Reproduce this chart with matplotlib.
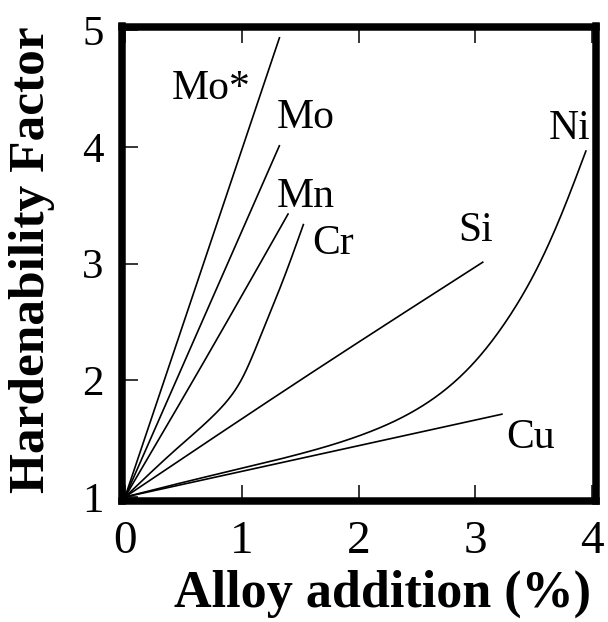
import matplotlib
matplotlib.use("Agg")
import matplotlib.pyplot as plt
import numpy as np

# ---- data ----
mo_star_x = [0.0, 1.325]
mo_star_y = [1.0, 4.94]

mo_x = [0.0, 1.325]
mo_y = [1.0, 4.015]

mn_x = [0.0, 0.7, 1.4]
mn_y = [1.0, 2.20, 3.43]

cr_x = [0.0, 0.45, 0.75, 0.88, 1.0, 1.17, 1.37, 1.53]
cr_y = [1.0, 1.42, 1.69, 1.83, 2.01, 2.40, 2.90, 3.34]

si_x = [0.0, 1.5, 3.07]
si_y = [1.0, 2.0, 3.015]

ni_x = [0.0, 0.64, 1.5, 2.1, 2.53, 2.96, 3.3, 3.55, 3.75, 3.95]
ni_y = [1.0, 1.16, 1.37, 1.56, 1.77, 2.12, 2.56, 3.00, 3.45, 3.97]

cu_x = [0.0, 1.5, 3.235]
cu_y = [1.0, 1.33, 1.711]

labels = ["Mo*", "Mo", "Mn", "Cr", "Si", "Ni", "Cu"]
label_x = [0.74, 1.55, 1.55, 1.78, 3.0, 3.81, 3.47]
label_y = [4.50, 4.25, 3.57, 3.17, 3.28, 4.15, 1.51]

x_ticks = [0, 1, 2, 3, 4]
y_ticks = [1, 2, 3, 4, 5]

plt.rcParams['font.family'] = ['Liberation Serif', 'DejaVu Serif']


def natural_spline(xs, ys, n=300):
    """Natural cubic spline y(x) through the read points."""
    x = np.asarray(xs, float)
    y = np.asarray(ys, float)
    m = len(x)
    if m < 3:
        return x, y
    h = np.diff(x)
    A = np.zeros((m, m))
    b = np.zeros(m)
    A[0, 0] = 1.0
    A[-1, -1] = 1.0
    for i in range(1, m - 1):
        A[i, i - 1] = h[i - 1]
        A[i, i] = 2 * (h[i - 1] + h[i])
        A[i, i + 1] = h[i]
        b[i] = 3 * ((y[i + 1] - y[i]) / h[i] - (y[i] - y[i - 1]) / h[i - 1])
    c = np.linalg.solve(A, b)
    bb = (y[1:] - y[:-1]) / h - h * (2 * c[:-1] + c[1:]) / 3
    d = (c[1:] - c[:-1]) / (3 * h)
    t = np.linspace(x[0], x[-1], n)
    idx = np.clip(np.searchsorted(x, t, side='right') - 1, 0, m - 2)
    dx = t - x[idx]
    yt = y[idx] + bb[idx] * dx + c[idx] * dx ** 2 + d[idx] * dx ** 3
    return t, yt


fig = plt.figure(figsize=(6.08, 6.22), dpi=100)
ax = fig.add_axes([121.5/608, 1-501/622, (596-121.5)/608, (501-26.5)/622])

series = [(mo_star_x, mo_star_y), (mo_x, mo_y), (mn_x, mn_y), (cr_x, cr_y),
          (si_x, si_y), (ni_x, ni_y), (cu_x, cu_y)]
for xs, ys in series:
    sx, sy = natural_spline(xs, ys)
    ax.plot(sx, sy, color='black', lw=1.2, solid_capstyle='butt')

for s, lx, ly in zip(labels, label_x, label_y):
    ax.text(lx, ly, s, fontsize=30, ha='center', va='center', color='black')

ax.set_xlim(-0.03, 4.034)
ax.set_ylim(0.966, 5.03)
ax.set_xticks(x_ticks)
ax.set_yticks(y_ticks)
ax.set_xticklabels([str(v) for v in x_ticks])
ax.set_yticklabels([str(v) for v in y_ticks])

for sp in ax.spines.values():
    sp.set_linewidth(5.4)
ax.tick_params(axis='both', direction='in', length=11.5, width=1.1, colors='black')
ax.tick_params(axis='x', top=True, bottom=True, labelsize=34, pad=14)
ax.tick_params(axis='y', left=True, right=False, labelsize=31, pad=13)

fig.text(382/608, 0.045, "Alloy addition (%)", fontsize=37.5, fontweight='bold',
         ha='center', va='center')
fig.text(32/608, 0.582, "Hardenability Factor", fontsize=37, fontweight='bold',
         ha='center', va='center', rotation=90)

fig.savefig("out.png", dpi=100)
